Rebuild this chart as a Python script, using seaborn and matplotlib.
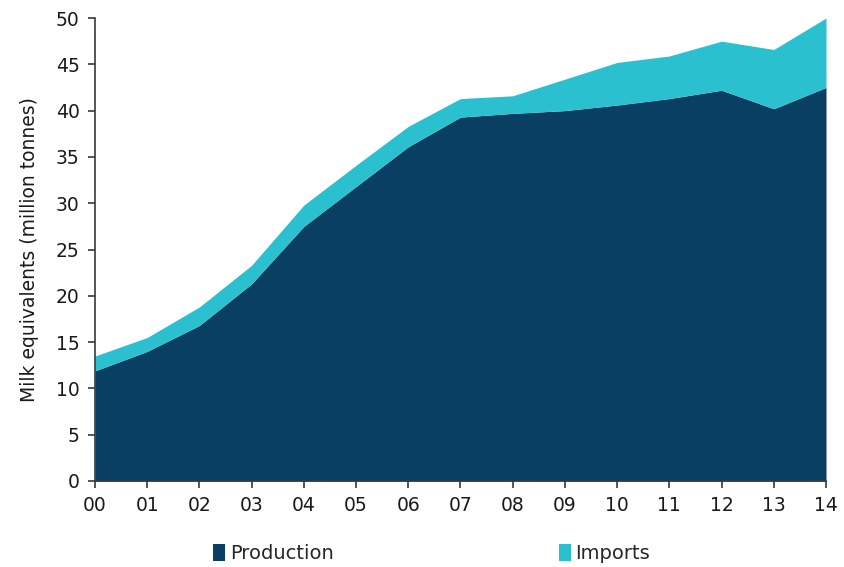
import matplotlib
matplotlib.use("Agg")
import matplotlib.pyplot as plt
from matplotlib.patches import Patch
import seaborn as sns
import numpy as np

years = list(range(15))
year_labels = ["00", "01", "02", "03", "04", "05", "06", "07", "08", "09", "10", "11", "12", "13", "14"]
production = [11.9, 14.0, 16.8, 21.3, 27.5, 31.8, 36.1, 39.3, 39.7, 40.0, 40.6, 41.3, 42.2, 40.2, 42.5]
total = [13.5, 15.5, 18.8, 23.3, 29.8, 34.1, 38.3, 41.3, 41.6, 43.4, 45.2, 45.9, 47.5, 46.6, 50.0]
imports = [t - p for t, p in zip(total, production)]
series_names = ["Production", "Imports"]
colors = ["#083f63", "#2ac0d0"]

sns.set_theme(style="ticks")
plt.rcParams["font.family"] = ["DejaVu Sans"]

fig = plt.figure(figsize=(8.45, 5.67), dpi=100)
ax = fig.add_axes([95/845, 1-481/567, (826-95)/845, (481-18)/567])
ax.stackplot(years, production, imports, colors=colors, linewidth=0)

ax.set_xlim(0, 14)
ax.set_ylim(0, 50)
ax.set_xticks(years)
ax.set_xticklabels(year_labels)
ax.set_yticks(np.arange(0, 51, 5))
for s in ["top", "right"]:
    ax.spines[s].set_visible(False)
for s in ["left", "bottom"]:
    ax.spines[s].set_color("#333a40")
    ax.spines[s].set_linewidth(1.2)
ax.tick_params(axis="both", direction="out", length=5, width=1.2, color="#333a40",
               labelsize=13.5, labelcolor="#1a1a1a", pad=6)
ax.set_ylabel("Milk equivalents (million tonnes)", fontsize=13.5, color="#1a1a1a", labelpad=12)

handles = [Patch(facecolor=c, edgecolor="none") for c in colors]
fig.legend(handles, series_names, loc="center", bbox_to_anchor=(0.511, 0.024), ncol=2,
           frameon=False, fontsize=14, handlelength=0.6, handleheight=1.0,
           handletextpad=0.25, columnspacing=11.6)

fig.savefig("out.png", dpi=100)
